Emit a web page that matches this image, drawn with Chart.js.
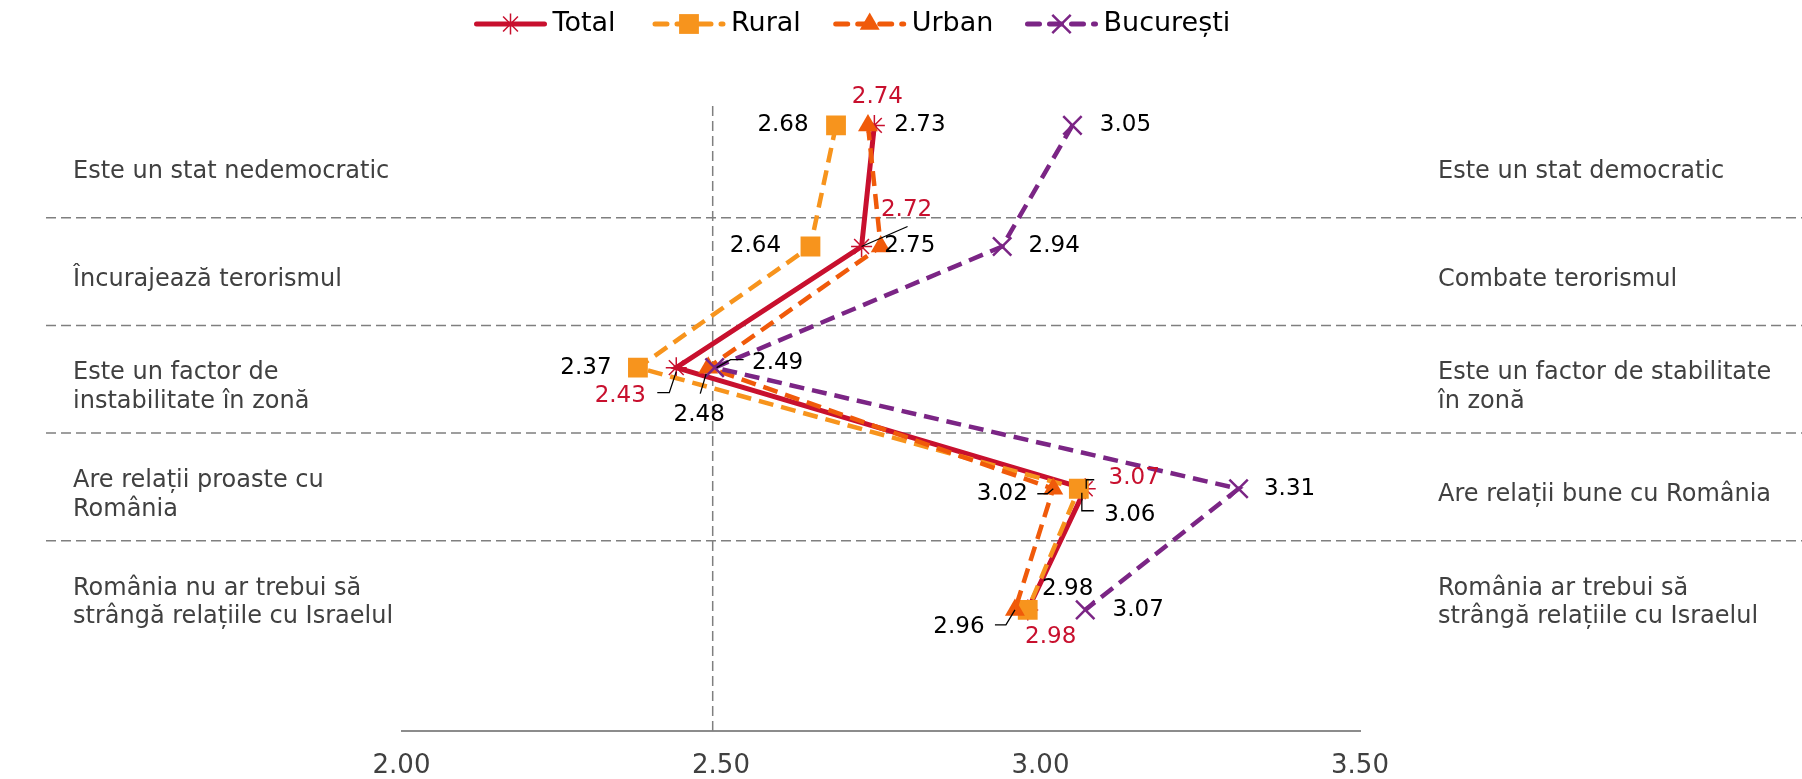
<!DOCTYPE html>
<html>
<head>
<meta charset="utf-8">
<script src="https://cdn.jsdelivr.net/npm/chart.js@4.4.1/dist/chart.umd.min.js"></script>
<style>
  html, body { margin: 0; padding: 0; background: #fff; }
  #wrap { width: 1802px; height: 779px; }
</style>
</head>
<body>
<div id="wrap"><canvas id="chart" width="1802" height="779"></canvas></div>
<script>
// statements, negative pole on the left, positive pole on the right
const leftLabels = [
  ['Este un stat nedemocratic'],
  ['Încurajează terorismul'],
  ['Este un factor de', 'instabilitate în zonă'],
  ['Are relații proaste cu', 'România'],
  ['România nu ar trebui să', 'strângă relațiile cu Israelul']
];
const rightLabels = [
  ['Este un stat democratic'],
  ['Combate terorismul'],
  ['Este un factor de stabilitate', 'în zonă'],
  ['Are relații bune cu România'],
  ['România ar trebui să', 'strângă relațiile cu Israelul']
];
const rows = [0, 1, 2, 3, 4];

const total     = [2.74, 2.72, 2.43, 3.07, 2.98];
const rural     = [2.68, 2.64, 2.37, 3.06, 2.98];
const urban     = [2.73, 2.75, 2.48, 3.02, 2.96];
const bucuresti = [3.05, 2.94, 2.49, 3.31, 3.07];

const xTicks = [2.00, 2.50, 3.00, 3.50];
const refLine = 2.487;

const RED = '#C8102E', ORANGE = '#F7941D', URBAN = '#F05A0A', PURPLE = '#7B2585';

const toPoints = vals => vals.map((v, i) => ({ x: v, y: rows[i] }));

// where each value label sits relative to its marker (+ optional leader line)
const labelLayout = {
  'Total': { color: RED,
    offsets: [[3, -28], [45, -36], [-56, 28], [49, -11], [23, 27]],
    leaders: [null, [[0, 0], [46, -20]], [[0, 4], [-7, 25], [-19, 25]], [[1, 0], [1, -9], [9, -9]], null] },
  'Rural': { color: '#000',
    offsets: [[-53, 0], [-55, 0], [-52, 0], [51, 26], [40, -21]],
    leaders: [null, null, null, [[3, 4], [3, 22], [15, 22]], null] },
  'Urban': { color: '#000',
    offsets: [[52, 0], [29, 0], [-9, 47], [-51, 5], [-56, 17]],
    leaders: [null, null, [[-2, 6], [-8, 26]], [[0, 0], [-6, 5], [-16, 5]], [[0, 0], [-9, 15], [-20, 15]]] },
  'București': { color: '#000',
    offsets: [[53, 0], [52, 0], [63, -5], [51, 0], [53, 0]],
    leaders: [null, null, [[2, 0], [16, -8], [29, -8]], null, null] }
};

const bandTop = 110, bandH = 107.7;

const backdrop = {
  id: 'backdrop',
  beforeDatasetsDraw(chart) {
    const ctx = chart.ctx, a = chart.chartArea;
    ctx.save();
    ctx.strokeStyle = '#7f7f7f';
    ctx.lineWidth = 1.5;
    ctx.setLineDash([10, 5]);
    for (let k = 1; k < leftLabels.length; k++) {
      const y = bandTop + k * bandH;
      ctx.beginPath(); ctx.moveTo(46, y); ctx.lineTo(chart.width, y); ctx.stroke();
    }
    const xr = chart.scales.x.getPixelForValue(refLine);
    ctx.beginPath(); ctx.moveTo(xr, a.top); ctx.lineTo(xr, a.bottom); ctx.stroke();
    ctx.setLineDash([]);

    ctx.font = '24px "DejaVu Sans"';
    ctx.fillStyle = '#404040';
    ctx.textBaseline = 'middle';
    ctx.textAlign = 'left';
    const put = (lines, i, x) => {
      const cy = bandTop + i * bandH + 62;
      lines.forEach((t, j) => ctx.fillText(t, x, cy + (j - (lines.length - 1) / 2) * 28.5));
    };
    leftLabels.forEach((l, i) => put(l, i, 73));
    rightLabels.forEach((l, i) => put(l, i, 1438));
    ctx.restore();
  }
};

const valueLabels = {
  id: 'valueLabels',
  afterDatasetsDraw(chart) {
    const ctx = chart.ctx;
    ctx.save();
    ctx.font = '23px "DejaVu Sans"';
    ctx.textAlign = 'center';
    ctx.textBaseline = 'middle';
    chart.data.datasets.forEach((ds, di) => {
      const meta = chart.getDatasetMeta(di);
      const lay = labelLayout[ds.label];
      meta.data.forEach((pt, i) => {
        const lead = lay.leaders[i];
        if (lead) {
          ctx.strokeStyle = '#000';
          ctx.lineWidth = 1.3;
          ctx.beginPath();
          lead.forEach(([lx, ly], k) => k ? ctx.lineTo(pt.x + lx, pt.y + ly) : ctx.moveTo(pt.x + lx, pt.y + ly));
          ctx.stroke();
        }
        const [dx, dy] = lay.offsets[i];
        ctx.fillStyle = lay.color;
        ctx.fillText(ds.data[i].x.toFixed(2), pt.x + dx, pt.y + dy);
      });
    });
    ctx.restore();
  }
};

const legendX = [474.5, 653, 833.7, 1025.5];
const lineLegend = {
  id: 'lineLegend',
  afterDraw(chart) {
    const ctx = chart.ctx, y = 24;
    ctx.save();
    chart.data.datasets.forEach((ds, i) => {
      const x0 = legendX[i];
      ctx.strokeStyle = ds.borderColor;
      ctx.lineWidth = 5;
      ctx.lineCap = 'round';
      ctx.setLineDash(ds.borderDash ? [12, 10] : []);
      ctx.beginPath(); ctx.moveTo(x0 + 2, y); ctx.lineTo(x0 + 70, y); ctx.stroke();
      ctx.setLineDash([]);
      ctx.lineCap = 'butt';
      ctx.fillStyle = ds.pointBackgroundColor;
      ctx.strokeStyle = ds.pointBorderColor;
      ctx.lineWidth = ds.pointBorderWidth;
      Chart.helpers.drawPoint(ctx, {
        pointStyle: ds.pointStyle, rotation: 0,
        radius: ds.pointRadius, borderWidth: ds.pointBorderWidth
      }, x0 + 36, y);
      ctx.font = '27px "DejaVu Sans"';
      ctx.fillStyle = '#000';
      ctx.textAlign = 'left';
      ctx.textBaseline = 'middle';
      ctx.fillText(ds.label, x0 + 78, y);
    });
    ctx.restore();
  }
};

new Chart(document.getElementById('chart'), {
  type: 'scatter',
  data: {
    datasets: [
      { label: 'Total', data: toPoints(total), showLine: true, order: 3,
        borderColor: RED, borderWidth: 5,
        pointStyle: 'star', pointRadius: 10.5, pointBorderWidth: 1.5,
        pointBorderColor: RED, pointBackgroundColor: RED },
      { label: 'Rural', data: toPoints(rural), showLine: true, order: 2,
        borderColor: ORANGE, borderWidth: 4.5, borderDash: [15, 8],
        pointStyle: 'rect', pointRadius: 14, pointBorderWidth: 0,
        pointBorderColor: ORANGE, pointBackgroundColor: ORANGE },
      { label: 'Urban', data: toPoints(urban), showLine: true, order: 1,
        borderColor: URBAN, borderWidth: 4.5, borderDash: [15, 8],
        pointStyle: 'triangle', pointRadius: 11.5, pointBorderWidth: 0,
        pointBorderColor: URBAN, pointBackgroundColor: URBAN },
      { label: 'București', data: toPoints(bucuresti), showLine: true, order: 0,
        borderColor: PURPLE, borderWidth: 4.5, borderDash: [15, 8],
        pointStyle: 'crossRot', pointRadius: 13, pointBorderWidth: 2.5,
        pointBorderColor: PURPLE, pointBackgroundColor: PURPLE }
    ]
  },
  options: {
    responsive: false,
    animation: false,
    layout: { autoPadding: false, padding: { left: 401.5, right: 442, top: 106, bottom: -22 } },
    plugins: { legend: { display: false }, tooltip: { enabled: false } },
    elements: { line: { tension: 0, fill: false } },
    scales: {
      x: {
        type: 'linear', min: 2, max: 3.5,
        afterBuildTicks: s => { s.ticks = xTicks.map(v => ({ value: v })); },
        ticks: {
          callback: v => Number(v).toFixed(2),
          font: { family: 'DejaVu Sans', size: 26, lineHeight: 1 },
          color: '#404040', padding: 22
        },
        grid: { display: false, drawTicks: false },
        border: { display: true, color: '#8c8c8c', width: 2 }
      },
      y: { type: 'linear', display: false, reverse: true, min: -0.16, max: 5.0 }
    }
  },
  plugins: [backdrop, valueLabels, lineLegend]
});
</script>
</body>
</html>
